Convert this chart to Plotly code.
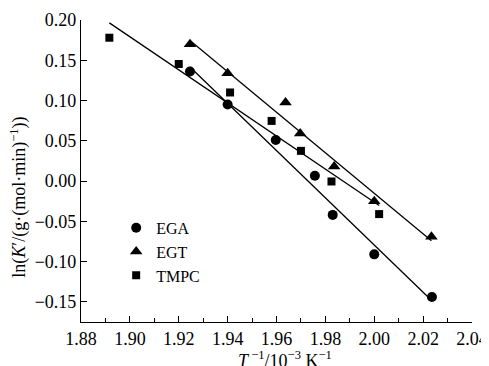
import numpy as np
import plotly.graph_objects as go

# Data
ega_x = [1.9246, 1.9400, 1.9597, 1.9757, 1.9830, 2.0000, 2.0236]
ega_y = [0.136, 0.095, 0.051, 0.0065, -0.042, -0.091, -0.144]
egt_x = [1.9246, 1.9400, 1.9637, 1.9697, 1.9836, 2.0000, 2.0234]
egt_y = [0.170, 0.134, 0.0975, 0.059, 0.018, -0.025, -0.069]
tmpc_x = [1.8916, 1.9200, 1.9410, 1.9580, 1.9700, 1.9825, 2.0020]
tmpc_y = [0.178, 0.1454, 0.110, 0.0747, 0.0375, -0.0005, -0.041]

series = [
    ("EGA", ega_x, ega_y, "circle", 10),
    ("EGT", egt_x, egt_y, "triangle-up", 11),
    ("TMPC", tmpc_x, tmpc_y, "square", 8),
]

fig = go.Figure()
for name, xs, ys, sym, sz in series:
    k, b = np.polyfit(xs, ys, 1)
    lx = np.array([min(xs), max(xs)])
    fig.add_trace(go.Scatter(x=lx, y=k * lx + b, mode="lines",
                             line=dict(color="black", width=1.3),
                             showlegend=False, hoverinfo="skip"))
for name, xs, ys, sym, sz in series:
    fig.add_trace(go.Scatter(x=xs, y=ys, mode="markers", name=name,
                             marker=dict(symbol=sym, size=sz, color="black")))

font = "Liberation Serif, Times New Roman, serif"
# the page body adds an 8px offset; margins compensate for it
fig.update_layout(
    width=489, height=366,
    margin=dict(l=73, r=25, t=12, b=52),
    paper_bgcolor="white", plot_bgcolor="white",
    font=dict(family=font, size=18, color="black"),
    showlegend=True,
    legend=dict(x=0.09, y=0.368, xanchor="left", yanchor="top",
                bgcolor="rgba(0,0,0,0)", font=dict(size=16),
                tracegroupgap=0),
    xaxis=dict(range=[1.88, 2.04], dtick=0.02, tick0=1.88, tickformat=".2f",
               showgrid=False, zeroline=False, showline=True, automargin=False,
               linecolor="black", linewidth=1.2,
               ticks="inside", ticklen=6, tickcolor="black",
               tickfont=dict(size=18),
               minor=dict(dtick=0.01, ticks="inside", ticklen=4, tickcolor="black")),
    yaxis=dict(range=[-0.175, 0.20], dtick=0.05, tick0=0, tickformat=".2f",
               showgrid=False, zeroline=False, showline=True, automargin=False,
               linecolor="black", linewidth=1.2,
               ticks="inside", ticklen=6, tickcolor="black",
               tickfont=dict(size=18)),
    annotations=[
        dict(text="<i>T</i><sup> −1</sup>/10<sup>−3</sup> K<sup>−1</sup>",
             xref="paper", yref="paper", x=0.522, y=-0.123,
             xanchor="center", yanchor="middle", showarrow=False,
             font=dict(size=18)),
        dict(text="ln(<i>K</i>′/(g·(mol·min)<sup>−1</sup>))",
             xref="paper", yref="paper", x=-0.159, y=0.414, textangle=-90,
             xanchor="center", yanchor="middle", showarrow=False,
             font=dict(size=18)),
    ],
)

fig.write_html("out.html")
